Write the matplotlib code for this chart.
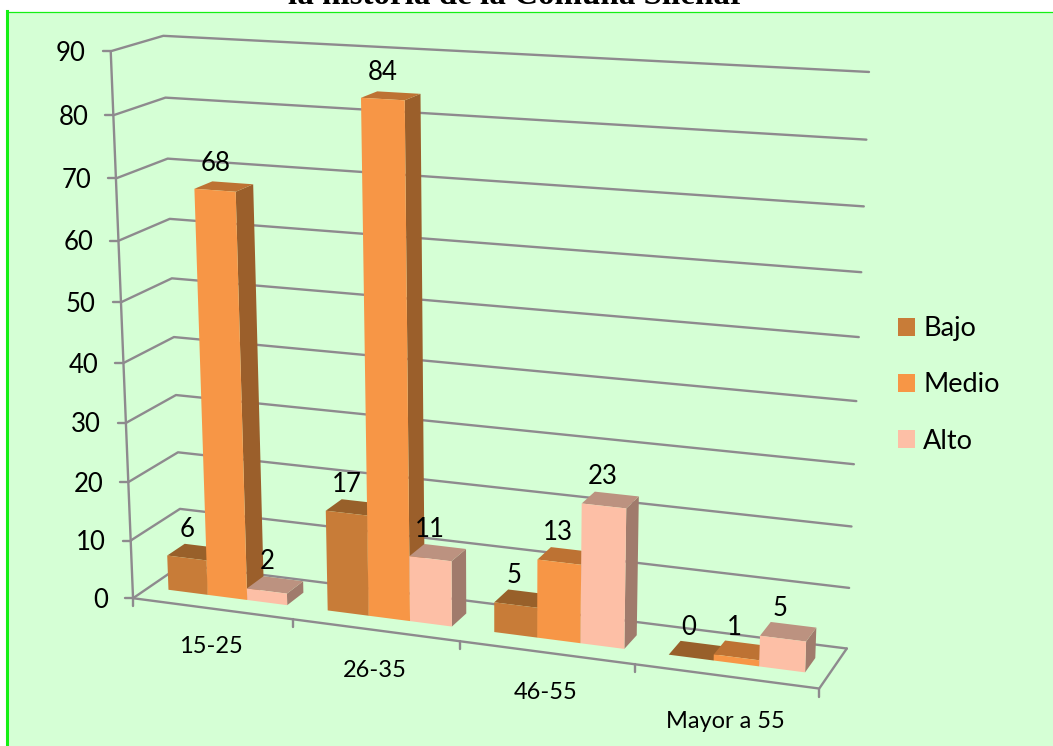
import matplotlib
matplotlib.use("Agg")
import matplotlib.pyplot as plt
import numpy as np
from matplotlib.patches import Polygon, Patch, Rectangle

categories = ["15-25", "26-35", "46-55", "Mayor a 55"]
series_names = ["Bajo", "Medio", "Alto"]
bajo = [6, 17, 5, 0]
medio = [68, 84, 13, 1]
alto = [2, 11, 23, 5]
y_ticks = [0, 10, 20, 30, 40, 50, 60, 70, 80, 90]

front_colors = ["#C87C38", "#F79646", "#FDBFA6"]
top_colors = ["#98602A", "#BD7233", "#BC9280"]
side_colors = ["#98602A", "#9B5F2B", "#A07B6C"]
bg = "#D5FFD5"
grid_color = "#8E8A8E"
border_color = "#14F014"

Y_MAX = 90.0

# Where the corners of the chart box land in the picture: (u, depth, value) -> pixel
box_world = [(0, 0, 0), (0, 0, 1), (0, 1, 0), (0, 1, 1), (1, 1, 0), (1, 1, 1), (1, 0, 0)]
box_pixel = [(133, 598), (111, 51), (182, 565), (163, 36), (847, 648), (869, 72), (819, 689)]


# Fits the 3x4 camera matrix from the box corners
def fit_camera(world, pixel):
    rows = []
    rhs = []
    for (a, b, c), (x, y) in zip(world, pixel):
        rows.append([a, b, c, 1, 0, 0, 0, 0, -x * a, -x * b, -x * c])
        rhs.append(x)
        rows.append([0, 0, 0, 0, a, b, c, 1, -y * a, -y * b, -y * c])
        rhs.append(y)
    sol = np.linalg.lstsq(np.array(rows, float), np.array(rhs, float), rcond=None)[0]
    return np.append(sol, 1.0).reshape(3, 4)


camera = fit_camera(box_world, box_pixel)


def project(u, d, value):
    p = camera @ np.array([u, d, value / Y_MAX, 1.0])
    return p[0] / p[2], p[1] / p[2]


def draw_bar(ax, u0, u1, d0, d1, value, k):
    front = [project(u0, d0, 0), project(u1, d0, 0), project(u1, d0, value), project(u0, d0, value)]
    side = [project(u1, d0, 0), project(u1, d1, 0), project(u1, d1, value), project(u1, d0, value)]
    top = [project(u0, d0, value), project(u1, d0, value), project(u1, d1, value), project(u0, d1, value)]
    ax.add_patch(Polygon(side, closed=True, fc=side_colors[k], ec="none", zorder=3))
    ax.add_patch(Polygon(top, closed=True, fc=top_colors[k], ec="none", zorder=3))
    ax.add_patch(Polygon(front, closed=True, fc=front_colors[k], ec="none", zorder=3))


def main():
    plt.rcParams["font.family"] = ["Lato", "DejaVu Sans"]
    fig = plt.figure(figsize=(10.53, 7.46), dpi=100, facecolor="white")
    ax = fig.add_axes([0, 0, 1, 1])
    ax.set_xlim(0, 1053)
    ax.set_ylim(746, 0)
    ax.axis("off")

    # Green panel with its border
    ax.add_patch(Rectangle((6.5, 11.5), 1060, 750, fc=bg, ec=border_color, lw=0.9, zorder=1))
    ax.plot([6.5, 6.5], [11, 746], color=border_color, lw=2.2, zorder=2)

    ax.text(516.5, 4, "la historia de la Comuna Silenar", family="Liberation Serif",
            fontsize=23.8, fontweight="bold", ha="center", va="baseline", color="black", zorder=2)

    # Walls and floor
    line = dict(color=grid_color, lw=1.7, zorder=2, solid_capstyle="round")
    for tick in y_ticks:
        pts = [project(0, 0, tick), project(0, 1, tick), project(1, 1, tick)]
        ax.plot([p[0] for p in pts], [p[1] for p in pts], **line)
        x, y = project(0, 0, tick)
        ax.plot([x - 8, x], [y, y], **line)
        ax.text(x - 25, y + 2, str(tick), fontsize=18.5, ha="right", va="center", color="black", zorder=5)
    pts = [project(0, 0, 90), project(0, 0, 0), project(1, 0, 0), project(1, 1, 0)]
    ax.plot([p[0] for p in pts], [p[1] for p in pts], **line)

    n_cat = len(categories)
    for i in range(n_cat + 1):
        x, y = project(i / n_cat, 0, 0)
        ax.plot([x, x], [y, y + 8], **line)

    # Bars, left to right so that each one covers the side of the last
    d0, d1 = 0.32, 0.68
    label_drop = [38, 40, 40, 45]
    for i in range(n_cat):
        for k, values in enumerate([bajo, medio, alto]):
            u0 = (i + 0.125 + k * 0.25) / n_cat
            u1 = (i + 0.125 + (k + 1) * 0.25) / n_cat
            draw_bar(ax, u0, u1, d0, d1, values[i], k)
            x, y = project((u0 + u1) / 2, 0.5, values[i])
            ax.text(x - 8, y - 23, str(values[i]), fontsize=18.5, ha="center", va="center", color="black", zorder=6)
        x, y = project((i + 0.5) / n_cat, 0, 0)
        ax.text(x - 1, y + label_drop[i], categories[i], fontsize=17, ha="center", va="center", color="black", zorder=5)

    handles = [Patch(fc=c, ec="none") for c in front_colors]
    ax.legend(handles, series_names, loc="center left", bbox_to_anchor=(0.8296, 0.484), frameon=False,
              fontsize=19.5, handlelength=0.63, handleheight=0.63, handletextpad=0.3, labelspacing=1.15,
              labelcolor="black")

    fig.savefig("out.png", dpi=100, facecolor="white")


if __name__ == "__main__":
    main()
